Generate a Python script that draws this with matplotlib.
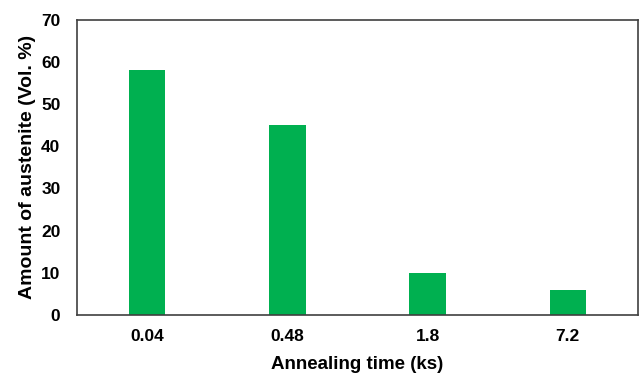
import matplotlib
matplotlib.use("Agg")
import matplotlib.pyplot as plt

categories = ["0.04", "0.48", "1.8", "7.2"]
values = [58, 45, 10, 6]
yticks = [0, 10, 20, 30, 40, 50, 60, 70]

plt.rcParams['font.family'] = ['Liberation Sans', 'DejaVu Sans']
plt.rcParams['font.weight'] = 'bold'

fig = plt.figure(figsize=(6.43, 3.74), dpi=100)
ax = fig.add_axes([0.12, 0.158, 0.872, 0.789])
x = range(len(categories))
ax.bar(x, values, width=0.26, color="#00B050")
ax.set_xlim(-0.5, len(categories) - 0.5)
ax.set_ylim(0, 70)
ax.set_yticks(yticks)
ax.set_xticks(list(x))
ax.set_xticklabels(categories)
ax.tick_params(axis='both', length=0, labelsize=12.5)
ax.tick_params(axis='y', pad=12)
ax.tick_params(axis='x', pad=10)
for s in ax.spines.values():
    s.set_color("#404040")
    s.set_linewidth(1.2)
ax.set_xlabel("Annealing time (ks)", fontsize=13.5, fontweight='bold', labelpad=9)
ax.set_ylabel("Amount of austenite (Vol. %)", fontsize=14, fontweight='bold', labelpad=4)
fig.savefig("out.png", dpi=100)
